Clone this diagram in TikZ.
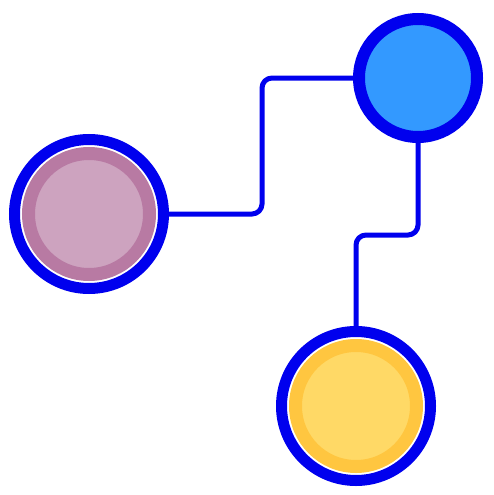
\documentclass[tikz,border=0pt]{standalone}
\usepackage{tikz}
\usepackage{xcolor}
\usetikzlibrary{calc,positioning}
\definecolor{wireBlue}{RGB}{0,0,238}
\definecolor{skyBlue}{RGB}{51,153,255}
\definecolor{mauveRing}{RGB}{184,122,163}
\definecolor{mauveFill}{RGB}{205,163,191}
\definecolor{sunRing}{RGB}{255,198,64}
\definecolor{sunFill}{RGB}{255,217,102}
\tikzset{
  hub/.style={circle,draw=wireBlue,line width=11pt,fill=white,minimum size=149pt,inner sep=0pt},
  core/.style={circle,line width=13pt,minimum size=121pt,inner sep=0pt},
  link/.style={draw=wireBlue,line width=5pt,rounded corners=10pt}
}

\begin{document}
\begin{tikzpicture}[x=1pt,y=-1pt]
\fill[white] (0,0) rectangle (494,495);
\useasboundingbox (0,0) rectangle (494,495);
% the three hubs
\node[hub] (mauve) at (89,214) {};
\node[core,draw=mauveRing,fill=mauveFill] (mauve-in) at (mauve.center) {};
\node[circle,draw=wireBlue,line width=12pt,fill=skyBlue,minimum size=118pt,inner sep=0pt] (sky) at (418,78) {};
\node[hub] (sun) at (356,406) {};
\node[core,draw=sunRing,fill=sunFill] (sun-in) at (sun.center) {};
% wires
\draw[link] (mauve.east) -- ++(93,0) |- (sky.west);
\draw[link] (sky.south) -- ++(0,92) -| (sun.north);
\end{tikzpicture}
\end{document}
